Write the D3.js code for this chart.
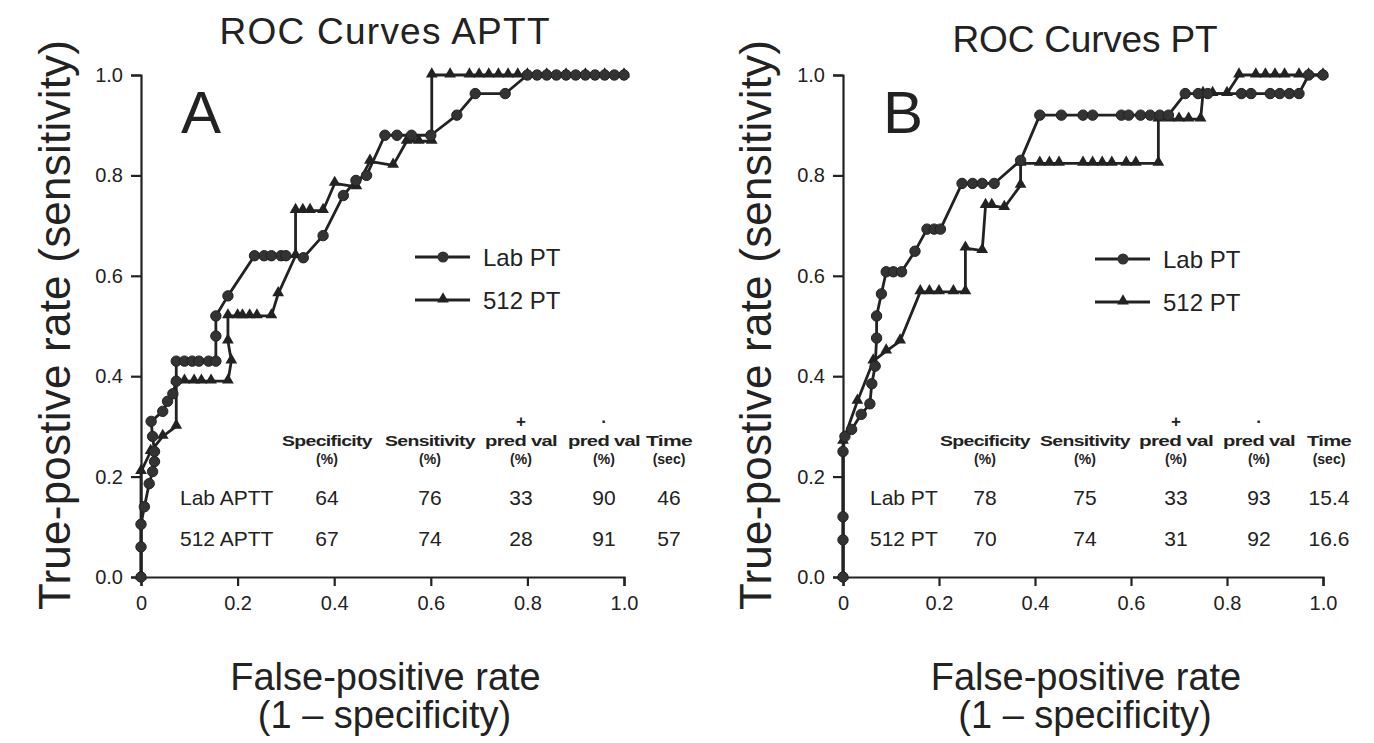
<!DOCTYPE html>
<html>
<head>
<meta charset="utf-8">
<script src="https://cdn.jsdelivr.net/npm/d3@7"></script>
<style>
  body { margin: 0; background: #fff; }
  svg text { font-family: "Liberation Sans", Arial, Helvetica, sans-serif; fill: #222; }
</style>
</head>
<body>
<svg id="chart" width="1374" height="743"></svg>
<script>
// tick values
var ticksY = [0, 0.2, 0.4, 0.6, 0.8, 1.0];
var ticksX = [0, 0.2, 0.4, 0.6, 0.8, 1.0];

// ROC points [false-positive rate, true-positive rate]
var labAptt = [[0,0],[0,0.06],[0,0.105],[0.007,0.14],[0.017,0.186],[0.024,0.21],[0.028,0.23],[0.028,0.25],
  [0.024,0.28],[0.021,0.31],[0.045,0.33],[0.055,0.35],[0.066,0.365],[0.073,0.39],[0.073,0.43],[0.09,0.43],
  [0.106,0.43],[0.12,0.43],[0.14,0.43],[0.155,0.43],[0.155,0.48],[0.155,0.52],[0.18,0.56],[0.235,0.64],
  [0.255,0.64],[0.27,0.64],[0.29,0.64],[0.30,0.64],[0.336,0.636],[0.377,0.68],[0.419,0.76],[0.445,0.79],
  [0.467,0.80],[0.505,0.88],[0.53,0.88],[0.56,0.88],[0.60,0.88],[0.654,0.92],[0.692,0.963],[0.754,0.963],
  [0.80,1.0],[0.82,1.0],[0.84,1.0],[0.86,1.0],[0.88,1.0],[0.90,1.0],[0.92,1.0],[0.94,1.0],[0.96,1.0],[0.98,1.0],[1.0,1.0]];
var aptt512 = [[0,0],[0,0.21],[0.02,0.25],[0.045,0.28],[0.073,0.30],[0.073,0.39],[0.09,0.39],[0.11,0.39],
  [0.125,0.39],[0.145,0.39],[0.18,0.39],[0.187,0.43],[0.18,0.47],[0.18,0.52],[0.2,0.52],[0.21,0.52],
  [0.225,0.52],[0.24,0.52],[0.27,0.52],[0.284,0.564],[0.32,0.64],[0.32,0.73],[0.335,0.73],[0.35,0.73],
  [0.377,0.73],[0.401,0.784],[0.446,0.777],[0.474,0.828],[0.522,0.82],[0.55,0.868],[0.575,0.868],[0.602,0.868],
  [0.602,1.0],[0.64,1.0],[0.68,1.0],[0.70,1.0],[0.72,1.0],[0.74,1.0],[0.76,1.0],[0.78,1.0],[0.80,1.0],
  [0.84,1.0],[0.88,1.0],[0.92,1.0],[0.96,1.0],[1.0,1.0]];
var labPt = [[0,0],[0,0.074],[0,0.12],[0,0.25],[0.004,0.28],[0.018,0.294],[0.038,0.324],[0.056,0.345],
  [0.06,0.385],[0.067,0.42],[0.07,0.476],[0.07,0.52],[0.08,0.564],[0.09,0.608],[0.105,0.608],[0.122,0.608],
  [0.15,0.649],[0.175,0.693],[0.19,0.693],[0.203,0.693],[0.248,0.784],[0.27,0.784],[0.29,0.784],[0.315,0.784],
  [0.37,0.83],[0.41,0.92],[0.455,0.92],[0.50,0.92],[0.52,0.92],[0.58,0.92],[0.595,0.92],[0.62,0.92],
  [0.64,0.92],[0.66,0.92],[0.678,0.92],[0.713,0.963],[0.74,0.963],[0.76,0.963],[0.83,0.963],[0.85,0.963],
  [0.89,0.963],[0.91,0.963],[0.93,0.963],[0.95,0.963],[0.97,1.0],[1.0,1.0]];
var pt512 = [[0,0],[0,0.27],[0.03,0.35],[0.063,0.43],[0.09,0.45],[0.119,0.47],[0.161,0.568],[0.18,0.568],
  [0.2,0.568],[0.23,0.568],[0.255,0.568],[0.255,0.655],[0.29,0.65],[0.297,0.74],[0.31,0.74],[0.336,0.736],
  [0.37,0.78],[0.37,0.824],[0.41,0.824],[0.43,0.824],[0.45,0.824],[0.50,0.824],[0.52,0.824],[0.54,0.824],
  [0.56,0.824],[0.59,0.824],[0.61,0.824],[0.657,0.824],[0.657,0.912],[0.68,0.912],[0.70,0.912],[0.72,0.912],
  [0.745,0.912],[0.75,0.963],[0.77,0.963],[0.80,0.963],[0.825,1.0],[0.86,1.0],[0.88,1.0],[0.90,1.0],
  [0.92,1.0],[0.95,1.0],[0.97,1.0],[1.0,1.0]];

// inset tables
var tableCols = ["Specificity", "Sensitivity", "pred val", "pred val", "Time"];
var tableUnits = ["(%)", "(%)", "(%)", "(%)", "(sec)"];
var tableSigns = ["", "", "+", "-", ""];
var apttRows = ["Lab APTT", "512 APTT"];
var apttVals = [["64", "76", "33", "90", "46"], ["67", "74", "28", "91", "57"]];
var ptRows = ["Lab PT", "512 PT"];
var ptVals = [["78", "75", "33", "93", "15.4"], ["70", "74", "31", "92", "16.6"]];
var legendNames = ["Lab PT", "512 PT"];

var ink = "#222";
var svg = d3.select("#chart");

var panels = [
  { left: 141, right: 624, title: "ROC Curves APTT", titleY: 44, titleW: 330, letter: "A",
    lab: labAptt, other: aptt512, legX: 415, legY: 257,
    rows: apttRows, vals: apttVals, rowX: 180, colX: [327, 430, 521, 604, 669],
    colW: [90, 90, 72, 72, 46], labelX: 70 },
  { left: 843, right: 1323, title: "ROC Curves PT", titleY: 52, titleW: 265, letter: "B",
    lab: labPt, other: pt512, legX: 1095, legY: 259,
    rows: ptRows, vals: ptVals, rowX: 870, colX: [985, 1085, 1176, 1259, 1329],
    colW: [90, 90, 74, 72, 44], labelX: 771 }
];

panels.forEach(function(p) {
  var x = d3.scaleLinear().domain([0, 1]).range([p.left, p.right]);
  var y = d3.scaleLinear().domain([0, 1]).range([577, 75]);
  var mid = (p.left + p.right) / 2;
  var g = svg.append("g");

  // axes
  var yAxis = d3.axisLeft(y).tickValues(ticksY).tickFormat(d3.format(".1f"))
    .tickSize(10).tickPadding(8);
  var xAxis = d3.axisBottom(x).tickValues(ticksX)
    .tickFormat(function(d) { return d === 0 ? "0" : d3.format(".1f")(d); })
    .tickSize(9).tickPadding(10);
  [g.append("g").attr("transform", "translate(" + p.left + ",0)").call(yAxis),
   g.append("g").attr("transform", "translate(0,577)").call(xAxis)].forEach(function(a) {
    a.selectAll("path, line").attr("stroke", ink).attr("stroke-width", 2.2);
    a.selectAll("text").attr("font-size", 20).attr("fill", ink)
      .style("font-family", "'Liberation Sans', Arial, sans-serif");
  });

  // titles
  g.append("text").attr("x", mid + 2).attr("y", p.titleY).attr("text-anchor", "middle")
    .attr("font-size", 37).attr("textLength", p.titleW).text(p.title);
  g.append("text").attr("transform", "translate(" + p.labelX + ",325) rotate(-90)")
    .attr("text-anchor", "middle").attr("font-size", 44).attr("textLength", 570)
    .text("True-postive rate (sensitivity)");
  g.append("text").attr("x", mid + 3).attr("y", 690).attr("text-anchor", "middle")
    .attr("font-size", 38).text("False-positive rate");
  g.append("text").attr("x", mid + 2).attr("y", 728).attr("text-anchor", "middle")
    .attr("font-size", 38).text("(1 \u2013 specificity)");
  g.append("text").attr("x", p.left + 40).attr("y", 133).attr("font-size", 60).text(p.letter);

  // curves
  var line = d3.line().x(function(d) { return x(d[0]); }).y(function(d) { return y(d[1]); });
  [p.other, p.lab].forEach(function(s) {
    g.append("path").datum(s).attr("d", line).attr("fill", "none")
      .attr("stroke", ink).attr("stroke-width", 2.8).attr("stroke-linejoin", "round");
  });
  var tri = d3.symbol().type(d3.symbolTriangle).size(60);
  g.selectAll(".tri").data(p.other).enter().append("path").attr("class", "tri")
    .attr("d", tri).attr("fill", ink)
    .attr("transform", function(d) { return "translate(" + x(d[0]) + "," + (y(d[1]) - 1) + ")"; });
  g.selectAll(".dot").data(p.lab).enter().append("circle").attr("class", "dot")
    .attr("cx", function(d) { return x(d[0]); }).attr("cy", function(d) { return y(d[1]); })
    .attr("r", 5.2).attr("fill", "#333").attr("stroke", ink).attr("stroke-width", 1);

  // legend
  legendNames.forEach(function(name, i) {
    var ly = p.legY + i * 43;
    g.append("line").attr("x1", p.legX).attr("x2", p.legX + 55).attr("y1", ly).attr("y2", ly)
      .attr("stroke", ink).attr("stroke-width", 2.8);
    if (i === 0) {
      g.append("circle").attr("cx", p.legX + 28).attr("cy", ly).attr("r", 5.5).attr("fill", "#333");
    } else {
      g.append("path").attr("d", tri).attr("fill", ink)
        .attr("transform", "translate(" + (p.legX + 28) + "," + (ly - 1) + ")");
    }
    g.append("text").attr("x", p.legX + 68).attr("y", ly + 9).attr("font-size", 24).text(name);
  });

  // table
  tableCols.forEach(function(c, i) {
    var cx = p.colX[i];
    g.append("text").attr("x", cx).attr("y", 446).attr("text-anchor", "middle")
      .attr("font-size", 15).attr("font-weight", "bold").attr("letter-spacing", -0.5)
      .attr("textLength", p.colW[i]).attr("lengthAdjust", "spacingAndGlyphs").text(c);
    g.append("text").attr("x", cx).attr("y", 464).attr("text-anchor", "middle")
      .attr("font-size", 14).attr("font-weight", "bold").text(tableUnits[i]);
    if (tableSigns[i]) {
      g.append("text").attr("x", cx).attr("y", 427).attr("text-anchor", "middle")
        .attr("font-size", 17).attr("font-weight", "bold")
        .text(tableSigns[i] === "+" ? "+" : "\u00b7");
    }
  });
  p.rows.forEach(function(r, j) {
    var ry = 505 + j * 41;
    g.append("text").attr("x", p.rowX).attr("y", ry).attr("font-size", 21).text(r);
    p.vals[j].forEach(function(v, i) {
      g.append("text").attr("x", p.colX[i]).attr("y", ry).attr("text-anchor", "middle")
        .attr("font-size", 21).text(v);
    });
  });
});
</script>
</body>
</html>
